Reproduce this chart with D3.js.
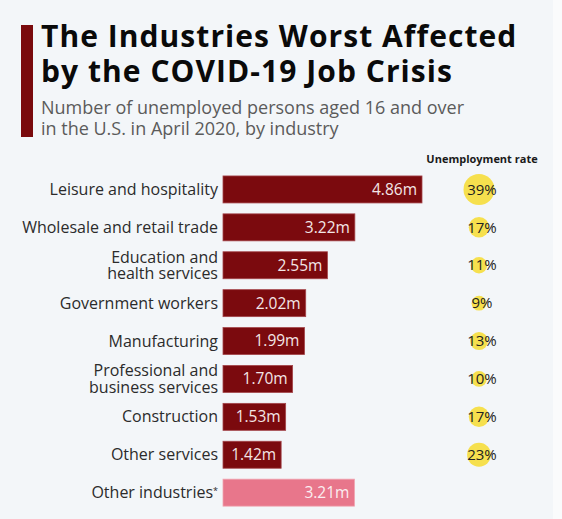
<!DOCTYPE html>
<html>
<head>
<meta charset="utf-8">
<script src="https://cdn.jsdelivr.net/npm/d3@7"></script>
<style>
  html, body { margin: 0; padding: 0; background: #f3f6f9; }
  svg { display: block; font-family: "Open Sans", sans-serif; }
</style>
</head>
<body>
<svg id="chart" width="562" height="519"></svg>
<script>
// industries, top to bottom
const industries = [
  ["Leisure and hospitality"],
  ["Wholesale and retail trade"],
  ["Education and", "health services"],
  ["Government workers"],
  ["Manufacturing"],
  ["Professional and", "business services"],
  ["Construction"],
  ["Other services"],
  ["Other industries"]
];
// unemployed persons, millions
const unemployed = [4.86, 3.22, 2.55, 2.02, 1.99, 1.70, 1.53, 1.42, 3.21];
// unemployment rate, percent (none for "Other industries")
const rates = [39, 17, 11, 9, 13, 10, 17, 23, null];

const rows = industries.map((lines, i) => ({
  key: lines.join(" "),
  lines,
  value: unemployed[i],
  rate: rates[i],
  other: i === industries.length - 1
}));

const svg = d3.select("#chart");
const W = 562, H = 519;

svg.append("rect").attr("width", W).attr("height", H).attr("fill", "#f3f6f9");
svg.append("rect").attr("x", 553).attr("width", W - 553).attr("height", H).attr("fill", "#fafbfc");

// header
svg.append("rect")
  .attr("x", 21).attr("y", 25).attr("width", 12).attr("height", 112)
  .attr("fill", "#7a0a0d");

const title = svg.append("text")
  .attr("fill", "#0a0a0a")
  .attr("font-weight", 700).attr("font-size", 30)
  .attr("letter-spacing", 1.05);
title.append("tspan").attr("x", 41).attr("y", 47).text("The Industries Worst Affected");
title.append("tspan").attr("x", 41).attr("y", 82).text("by the COVID-19 Job Crisis");

const sub = svg.append("text")
  .attr("fill", "#5b5b5b").attr("font-size", 18);
sub.append("tspan").attr("x", 41).attr("y", 114).text("Number of unemployed persons aged 16 and over");
sub.append("tspan").attr("x", 41).attr("y", 135).text("in the U.S. in April 2020, by industry");

// scales
const x = d3.scaleLinear().domain([0, 4.86]).range([223, 422]);
const y = d3.scaleBand()
  .domain(rows.map(d => d.key))
  .range([170.5, 511.6])
  .paddingInner(0.288)
  .paddingOuter(0.144);
const r = d3.scaleSqrt().domain([0, 39]).range([0, 15.5]);
const cx = 480;

svg.append("text")
  .attr("x", 482).attr("y", 163)
  .attr("text-anchor", "middle")
  .attr("font-size", 11).attr("font-weight", 700)
  .attr("fill", "#1a1a1a")
  .text("Unemployment rate");

const row = svg.selectAll("g.row")
  .data(rows)
  .join("g")
  .attr("class", "row")
  .attr("transform", d => `translate(0,${y(d.key)})`);

const bh = y.bandwidth();

row.append("rect")
  .attr("x", x(0))
  .attr("width", d => x(d.value) - x(0))
  .attr("height", bh)
  .attr("fill", d => d.other ? "#e8768b" : "#7b0a0e")
  .attr("stroke", d => d.other ? "#f0a3b0" : "#a4454a")
  .attr("stroke-width", 0.8);

row.append("text")
  .attr("x", d => x(d.value) - 5)
  .attr("y", bh / 2)
  .attr("dy", "0.35em")
  .attr("text-anchor", "end")
  .attr("font-size", 15.5)
  .attr("fill", d => d.other ? "#fbeef1" : "#f3e6e6")
  .text(d => d.value.toFixed(2) + "m");

// category labels, one text per line
row.each(function(d) {
  const g = d3.select(this);
  const n = d.lines.length;
  d.lines.forEach((s, i) => {
    const t = g.append("text")
      .attr("x", 218)
      .attr("y", bh / 2 + (i - (n - 1) / 2) * 16.5)
      .attr("dy", "0.35em")
      .attr("text-anchor", "end")
      .attr("font-size", 16)
      .attr("fill", "#2b2b2b")
      .text(s);
    if (d.other) {
      t.append("tspan").attr("font-size", 9).attr("dy", "-0.5em").text("*");
    }
  });
});

// rate bubbles
const rated = row.filter(d => d.rate != null);
rated.append("circle")
  .attr("cx", cx - 1)
  .attr("cy", bh / 2)
  .attr("r", d => r(d.rate))
  .attr("fill", "#f6e04e");
rated.append("text")
  .attr("x", cx + 2)
  .attr("y", bh / 2)
  .attr("dy", "0.35em")
  .attr("text-anchor", "middle")
  .attr("font-size", 15)
  .attr("fill", "#222")
  .text(d => d.rate + "%");
</script>
</body>
</html>
